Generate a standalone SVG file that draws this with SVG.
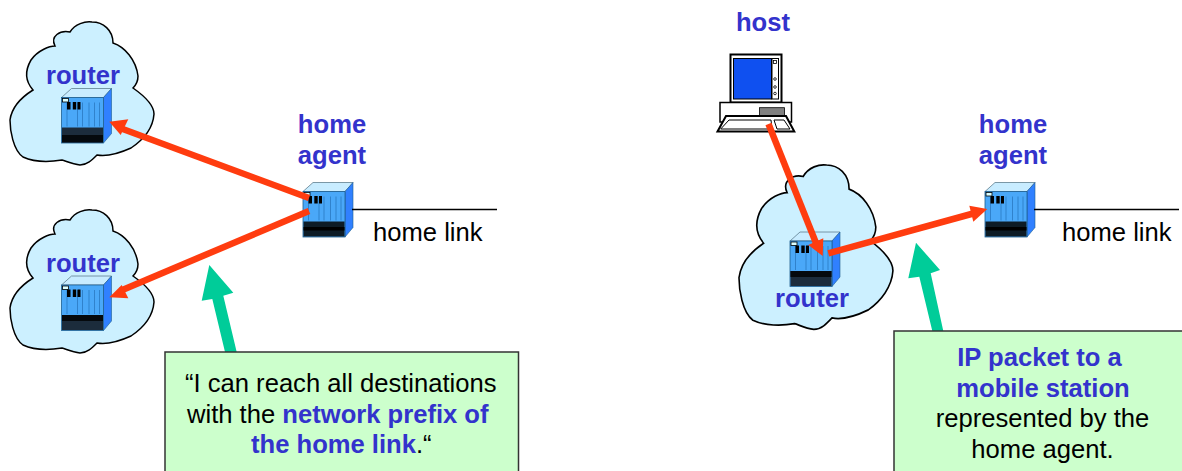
<svg xmlns="http://www.w3.org/2000/svg" xmlns:xlink="http://www.w3.org/1999/xlink" width="1182" height="471" viewBox="0 0 1182 471">
<style>
text{font-family:"Liberation Sans",Arial,sans-serif;font-size:25.6px;fill:#000}
.b{font-weight:bold;fill:#3333cc}
.m{text-anchor:middle}
.cloud{fill:#ccf0ff;stroke:#000;stroke-width:1.5}
.red{stroke:#ff3c0f;stroke-width:6.5;fill:none}
.rh{fill:#ff3c0f}
.grn{fill:#00cc99}
.note{fill:#ccffcc;stroke:#333;stroke-width:1.5}
.link{stroke:#000;stroke-width:1.5;fill:none}
</style>
<defs>
<path id="cl" d="M55,46 C50,36 60,30 70,32 C75,24 85,21 92,22 C103,22 113,30 113,43 C125,47 136,60 138,76 C138,83 134,87 133,88 C143,95 154,104 154,114 C153,128 143,140 131,148 C120,153 108,157 97,155 C92,160 87,165 80,165 C72,164 66,161 62,160 C50,162 34,162 23,157 C13,150 10,130 10,120 C12,105 25,95 33,90 C26,82 24,72 31,60 C38,50 50,46 55,46 Z"/>
<g id="rt">
<polygon points="0,0 10,-9 50,-9 42,0" fill="#c8ecff" stroke="#5f7f8f" stroke-width=".8"/>
<polygon points="42,0 50,-9 50,36 42,45.5" fill="#3080ff" stroke="#1f5f8f" stroke-width=".6"/>
<rect x="0" y="0" width="42" height="45.5" fill="#4aa8f8" stroke="#1f5f8f" stroke-width=".8"/>
<rect x="1" y="1" width="6" height="3.5" fill="#dff" stroke="#000" stroke-width=".8"/>
<path d="M5.500,5V29M16,5V29M21,5V29M27.500,5V29M33,5V29M38,5V29" stroke="#2a78c0" stroke-width=".8"/>
<rect x="5.500" y="4.500" width="3.500" height="7.500" fill="#000"/><rect x="11.300" y="4.500" width="3.400" height="7.500" fill="#000"/><rect x="16" y="4.500" width="3" height="7.500" fill="#000"/>
</g>
<g id="rt-a"><use xlink:href="#rt"/><rect x=".5" y="30" width="41" height="15" fill="#1c2c3c"/><rect x=".5" y="37.500" width="41" height="7.500" fill="#05090d"/></g>
<g id="rt-b"><use xlink:href="#rt"/><rect x=".5" y="30" width="41" height="15" fill="#1c2c3c"/><rect x=".5" y="30" width="41" height="6" fill="#05090d"/></g>
<g id="rt-h"><use xlink:href="#rt"/><rect x=".5" y="30" width="41" height="15" fill="#0e1c26"/><rect x=".5" y="35.500" width="41" height="3.500" fill="#000"/></g>
</defs>
<g id="cloud-a"><use xlink:href="#cl" class="cloud"/></g>
<g id="cloud-b"><use xlink:href="#cl" class="cloud" y="188"/></g>
<g id="cloud-c"><use xlink:href="#cl" class="cloud" transform="translate(728.300,139.700) scale(1.069,1.150)"/></g>
<g id="router-a"><use xlink:href="#rt-a" x="61.500" y="97.500"/><text class="b m" x="83" y="84">router</text></g>
<g id="router-b"><use xlink:href="#rt-b" x="61.500" y="285"/><text class="b m" x="83" y="272">router</text></g>
<g id="router-c"><use xlink:href="#rt-b" x="790" y="241"/><text class="b m" x="812" y="307">router</text></g>
<g id="home-agent-a"><use xlink:href="#rt-h" x="303" y="191.500"/><text class="b m" x="332" y="133">home</text><text class="b m" x="332" y="164">agent</text></g>
<g id="home-agent-b"><use xlink:href="#rt-h" x="985" y="191.500"/><text class="b m" x="1013" y="133">home</text><text class="b m" x="1013" y="164">agent</text></g>
<g id="host">
<text class="b m" x="763" y="31">host</text>
<rect x="730.500" y="54.500" width="51" height="48" fill="#fff" stroke="#000" stroke-width="2"/>
<rect x="733.500" y="58.500" width="38" height="40.500" fill="#0f50f0" stroke="#000"/>
<rect x="772" y="58.500" width="6.500" height="40.500" fill="#fff" stroke="#000"/>
<path d="M720,102.500H791.500V122H720Z" fill="#fff" stroke="#000" stroke-width="1.500"/>
<rect x="759.500" y="107.700" width="25" height="8.500" fill="#808080" stroke="#000" stroke-width=".8"/>
<path d="M726,116H786L794.300,131.500H717.500Z" fill="#fff" stroke="#000" stroke-width="2"/>
<path d="M729,120H771L772,129H720.700ZM774,120H784L790,129H777Z" fill="#fff" stroke="#000"/>
<g fill="#fff" stroke="#000" stroke-width=".8"><rect x="773.500" y="60.500" width="3" height="3"/><circle cx="775" cy="79" r="1.300"/><circle cx="775" cy="87" r="1.300"/><circle cx="775" cy="93.500" r="1.300"/></g>
</g>
<g id="connectors">
<path class="link" d="M352,209.500H497M1034,209.500H1179"/>
<path class="red" d="M309,198L120,128"/><polygon class="rh" points="109.300,121.700 128.300,119.300 120.700,135"/>
<path class="red" d="M309,211L120,291"/><polygon class="rh" points="109.300,297.300 128.300,298.300 121.700,285"/>
<path class="red" d="M768.500,124L816,243"/><polygon class="rh" points="822.700,256 808.300,245 823.300,238.300"/>
<path class="red" d="M828.300,253.300L975,213"/><polygon class="rh" points="987.300,209 969.300,205.700 973.300,221.700"/>
<polygon class="grn" points="209.300,265 233.300,292.700 223.300,295.700 236.700,352 225,352 212.300,299 201.700,300.700"/>
<polygon class="grn" points="916,242.700 940,270 930.700,273.300 943.300,331 932.300,331 919.300,276.700 908.300,278.300"/>
</g>
<g id="home-link-labels"><text x="373" y="241">home link</text><text x="1062" y="241">home link</text></g>
<g id="note-left"><rect class="note" x="165" y="352" width="353.500" height="125"/>
<text x="185" y="392">“I can reach all destinations</text>
<text x="187" y="423">with the <tspan class="b">network prefix of</tspan></text>
<text x="251" y="453"><tspan class="b">the home link</tspan>.“</text></g>
<g id="note-right"><rect class="note" x="894" y="331" width="300" height="146"/>
<text class="b m" x="1039.500" y="366">IP packet to a</text>
<text class="b m" x="1043" y="397">mobile station</text>
<text class="m" x="1042.500" y="427">represented by the</text>
<text class="m" x="1042.500" y="458">home agent.</text></g>
</svg>
